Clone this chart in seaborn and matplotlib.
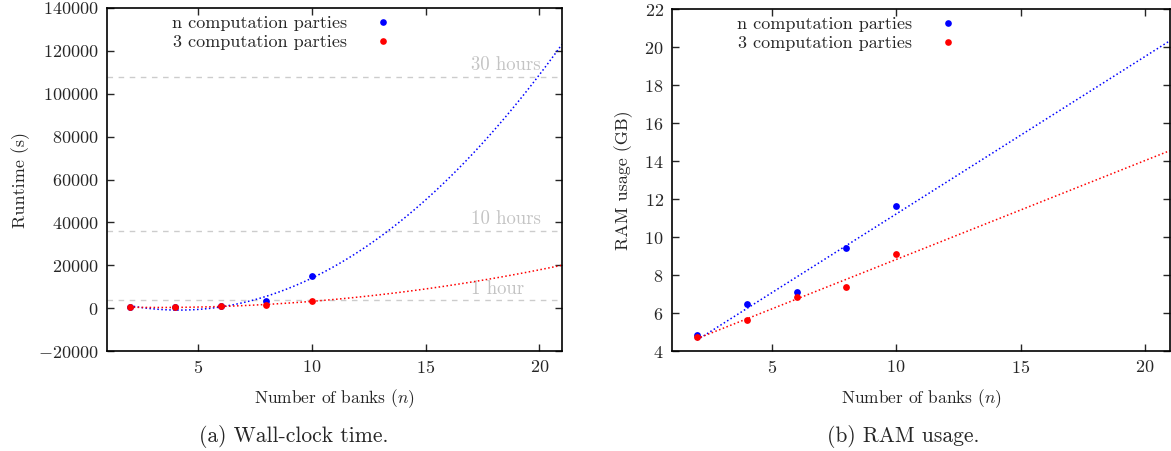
import numpy as np
import pandas as pd
import matplotlib
matplotlib.use("Agg")
import matplotlib.pyplot as plt
from matplotlib.lines import Line2D
import seaborn as sns

# ---------------- data ----------------
banks = [2, 4, 6, 8, 10]
runtime_n = [300, 600, 1100, 3300, 15000]
runtime_3 = [300, 500, 900, 1400, 3300]
ram_n = [4.82, 6.47, 7.09, 9.44, 11.63]
ram_3 = [4.74, 5.65, 6.82, 7.35, 9.10]
series_labels = ["n computation parties", "3 computation parties"]
hour_values = [3600, 36000, 108000]
hour_labels = ["1 hour", "10 hours", "30 hours"]
runtime_ticks = list(range(-20000, 140001, 20000))
ram_ticks = list(range(4, 23, 2))
x_ticks = [5, 10, 15, 20]
captions = ["(a) Wall-clock time.", "(b) RAM usage."]

sns.set_style("ticks")
plt.rcParams["font.family"] = ["cmr10", "DejaVu Serif"]
plt.rcParams["mathtext.fontset"] = "cm"
plt.rcParams["axes.formatter.use_mathtext"] = True
plt.rcParams["axes.unicode_minus"] = True

BLUE = "#0000ff"
RED = "#ff0000"
GRAY_LINE = "#cccccc"
GRAY_TXT = "#c4c4c4"

fig = plt.figure(figsize=(11.71, 4.51), dpi=100)
W, H = 1171, 451
ax1 = fig.add_axes([107 / W, 1 - 351 / H, 455 / W, 343 / H])
ax2 = fig.add_axes([672 / W, 1 - 351 / H, 498 / W, 342 / H])

TICK_FS = 13
LAB_FS = 12.5


def style_axes(ax):
    for s in ax.spines.values():
        s.set_linewidth(1.2)
        s.set_color("black")
    ax.tick_params(direction="in", top=True, right=True, length=5, width=1,
                   labelsize=TICK_FS, pad=6)


def draw(ax, ys, order):
    # the fitted curves run from the first sample to the right edge
    ax.set_xlim(banks[0], 21)
    for y, col in zip(ys, [BLUE, RED]):
        df = pd.DataFrame({"x": banks, "y": y})
        sns.regplot(data=df, x="x", y="y", order=order, ci=None, truncate=False,
                    ax=ax, color=col,
                    scatter_kws=dict(s=24, linewidths=0, alpha=1, zorder=3),
                    line_kws=dict(ls=(0, (1, 1.6)), lw=1.1, zorder=2))
    ax.set_xlim(1, 21)
    handles = [Line2D([], [], ls="none", marker="o", markersize=4.8,
                      markeredgewidth=0, color=c) for c in [BLUE, RED]]
    return handles


# ---------- left panel ----------
h1 = draw(ax1, [runtime_n, runtime_3], 2)
ax1.set_ylim(-20000, 140000)
ax1.set_yticks(runtime_ticks)
ax1.set_xticks(x_ticks)
for v, lab in zip(hour_values, hour_labels):
    ax1.axhline(v, color=GRAY_LINE, ls=(0, (4, 4)), lw=1, zorder=1)
    ax1.text(17.0, v + 1200, lab, color=GRAY_TXT, fontsize=TICK_FS + 0.5,
             ha="left", va="bottom", zorder=1)
ax1.set_ylabel("Runtime (s)", fontsize=LAB_FS + 0.5, labelpad=6)
ax1.set_xlabel("Number of banks ($n$)", fontsize=LAB_FS, labelpad=8)
style_axes(ax1)

# ---------- right panel ----------
h2 = draw(ax2, [ram_n, ram_3], 1)
ax2.set_ylim(4, 22)
ax2.set_yticks(ram_ticks)
ax2.set_xticks(x_ticks)
ax2.set_ylabel("RAM usage (GB)", fontsize=LAB_FS + 0.5, labelpad=8)
ax2.set_xlabel("Number of banks ($n$)", fontsize=LAB_FS, labelpad=8)
style_axes(ax2)

for ax, hs, anchor in [(ax1, h1, (0.626, 0.978)), (ax2, h2, (0.572, 0.978))]:
    ax.legend(hs, series_labels,
              loc="upper right", bbox_to_anchor=anchor, frameon=False,
              markerfirst=False, handlelength=1.0, handletextpad=1.5,
              labelspacing=0.2, borderpad=0, borderaxespad=0,
              fontsize=TICK_FS)

fig.text(294 / W, 1 - 437 / H, captions[0], ha="center", va="center", fontsize=15.5)
fig.text(903 / W, 1 - 437 / H, captions[1], ha="center", va="center", fontsize=15.5)

fig.savefig("out.png", dpi=100)
